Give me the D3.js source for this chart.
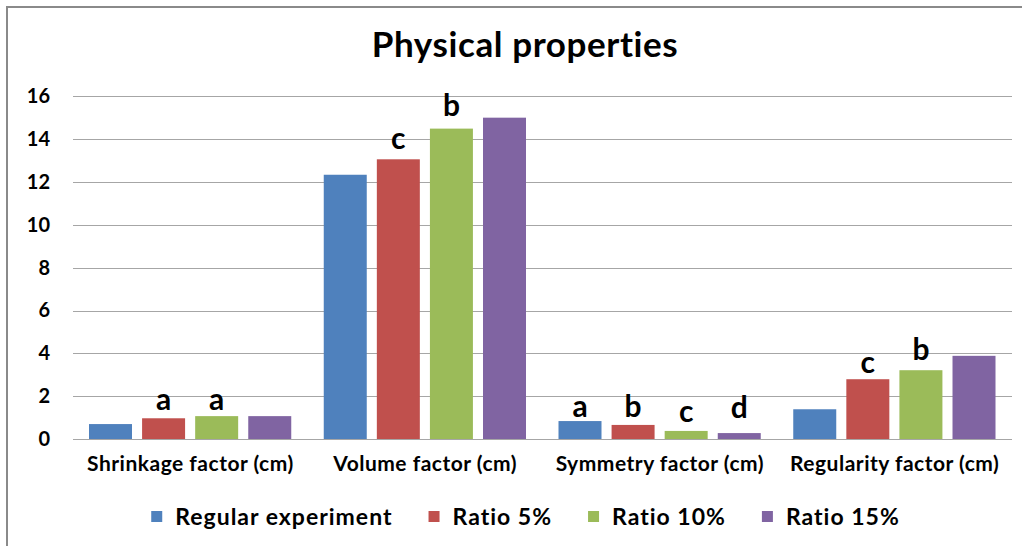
<!DOCTYPE html>
<html><head><meta charset="utf-8">
<script src="https://cdn.jsdelivr.net/npm/d3@7"></script>
<style>
html,body{margin:0;padding:0;background:#fff;}
svg{display:block;font-family:"Lato","Open Sans",sans-serif;}
</style></head>
<body>
<svg id="chart" width="1022" height="546"></svg>
<script>
const categories = ["Shrinkage factor (cm)", "Volume factor (cm)", "Symmetry factor (cm)", "Regularity factor (cm)"];
const seriesNames = ["Regular experiment", "Ratio 5%", "Ratio 10%", "Ratio 15%"];
const regularExperiment = [0.71, 12.33, 0.85, 1.40];
const ratio5 = [0.98, 13.05, 0.67, 2.80];
const ratio10 = [1.08, 14.48, 0.39, 3.22];
const ratio15 = [1.08, 14.99, 0.29, 3.89];
const yTicks = [0, 2, 4, 6, 8, 10, 12, 14, 16];
// significance letters and the value level of their baseline
const lettersRegular = ["", "", "a", ""];
const letters5 = ["a", "c", "b", "c"];
const letters10 = ["a", "b", "c", "b"];
const letters15 = ["", "", "d", ""];
const letterLevelRegular = [null, null, 1.05, null];
const letterLevel5 = [1.37, 13.54, 1.05, 3.08];
const letterLevel10 = [1.37, 15.05, 0.82, 3.70];
const letterLevel15 = [null, null, 0.99, null];
const colors = ["#4F81BD", "#C0504D", "#9BBB59", "#8064A2"];

const values = [regularExperiment, ratio5, ratio10, ratio15];
const letters = [lettersRegular, letters5, letters10, letters15];
const letterLevels = [letterLevelRegular, letterLevel5, letterLevel10, letterLevel15];

const svg = d3.select("#chart");
const W = 1022, H = 546;
const plot = {left: 73, right: 1012, top: 96, bottom: 439.3};

// border (left and top, as in the cropped reference)
svg.append("path").attr("d", `M7,${H} L7,7 L${W},7`).attr("fill", "none")
  .attr("stroke", "#8a8a8a").attr("stroke-width", 2);

svg.append("text").attr("x", 525).attr("y", 57).attr("text-anchor", "middle")
  .attr("font-size", 35).attr("font-weight", 700).attr("letter-spacing", 0.6)
  .attr("fill", "#000").text("Physical properties");

const x0 = d3.scaleBand().domain(categories).range([plot.left, plot.right]).padding(0);
const x1 = d3.scaleBand().domain(d3.range(4)).range([16, x0.bandwidth() - 16.5]).paddingInner(0.19);
const y = d3.scaleLinear().domain([0, 16]).range([plot.bottom, plot.top]);

// gridlines
svg.append("g").selectAll("line").data(yTicks).join("line")
  .attr("x1", plot.left).attr("x2", plot.right)
  .attr("y1", d => Math.round(y(d)) + 0.5).attr("y2", d => Math.round(y(d)) + 0.5)
  .attr("stroke", "#a6a6a6").attr("stroke-width", 1.2);

// y axis labels
const yAxis = d3.axisLeft(y).tickValues(yTicks).tickSize(0).tickPadding(0);
const ya = svg.append("g").attr("transform", `translate(50,0)`).call(yAxis);
ya.select(".domain").remove();
ya.selectAll("text").attr("font-size", 20).attr("font-weight", 700).attr("fill", "#000")
  .attr("font-family", "Lato, sans-serif");

// bars
const rows = [];
categories.forEach((c, ci) => values.forEach((s, si) => rows.push({c, ci, si, v: s[ci]})));
svg.append("g").selectAll("rect").data(rows).join("rect")
  .attr("x", d => x0(d.c) + x1(d.si))
  .attr("width", x1.bandwidth())
  .attr("y", d => y(d.v))
  .attr("height", d => y(0) - y(d.v))
  .attr("fill", d => colors[d.si]);

// baseline
svg.append("line").attr("x1", plot.left).attr("x2", plot.right)
  .attr("y1", Math.round(y(0)) + 0.5).attr("y2", Math.round(y(0)) + 0.5)
  .attr("stroke", "#a6a6a6").attr("stroke-width", 1.2);

// letters
const letterRows = [];
categories.forEach((c, ci) => letters.forEach((s, si) => {
  if (s[ci]) letterRows.push({c, si, t: s[ci], lv: letterLevels[si][ci]});
}));
svg.append("g").selectAll("text").data(letterRows).join("text")
  .attr("x", d => x0(d.c) + x1(d.si) + x1.bandwidth() / 2)
  .attr("y", d => y(d.lv))
  .attr("text-anchor", "middle").attr("font-size", 30).attr("font-weight", 700)
  .attr("fill", "#000").text(d => d.t);

// category labels
const xAxis = d3.axisBottom(x0).tickSize(0).tickPadding(0);
const xa = svg.append("g").attr("transform", `translate(0,${plot.bottom})`).call(xAxis);
xa.select(".domain").remove();
xa.selectAll("text").attr("dy", null).attr("y", 32).attr("font-size", 21).attr("font-weight", 700)
  .attr("letter-spacing", 0.5)
  .attr("fill", "#000").attr("font-family", "Lato, sans-serif");

// legend
const lg = svg.append("g");
const items = lg.selectAll("g").data(seriesNames).join("g");
items.append("rect").attr("width", 11).attr("height", 11).attr("y", -6).attr("fill", (d, i) => colors[i]);
items.append("text").attr("x", 24).attr("y", 0).attr("dy", "0.36em").attr("font-size", 23)
  .attr("letter-spacing", 1).attr("font-weight", 700).attr("fill", "#000").text(d => d);
let cx = 0;
items.each(function () {
  const g = d3.select(this);
  g.attr("transform", `translate(${cx},517)`);
  cx += 24 + g.select("text").node().getComputedTextLength() + 36;
});
const total = cx - 36;
lg.attr("transform", `translate(${525.5 - total / 2},0)`);
</script>
</body></html>
